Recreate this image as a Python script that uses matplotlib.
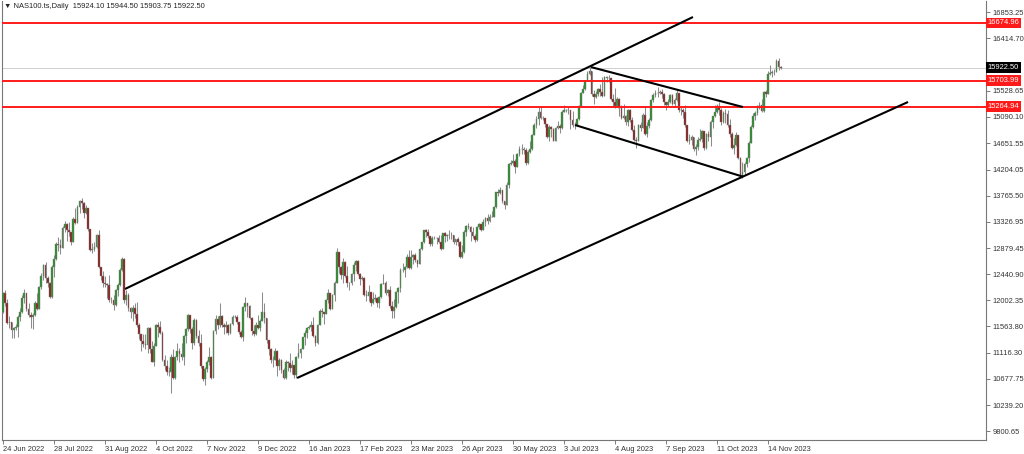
"""
NAS100 daily candles (Jun 2022 - Nov 2023) with channel, flag and
horizontal levels, drawn in the look of an MT4 chart window.
"""

import matplotlib
matplotlib.use("Agg")
import matplotlib.pyplot as plt
import matplotlib.transforms as mtransforms
import numpy as np

plt.rcParams["font.family"] = ["Liberation Sans", "DejaVu Sans"]

# ---- data -------------------------------------------------------------------
FIRST_OPEN = 11810

CLOSES = [
    12130, 11960, 11620, 11630, 11500, 11530, 11560, 11720, 11800, 12050,
    12120, 11860, 11750, 11730, 11760, 11960, 11860, 12220, 12420, 12600,
    12380, 12300, 12060, 12560, 12700, 12950, 12930, 12890, 13220, 13280,
    13180, 13150, 12990, 13380, 13310, 13580, 13680, 13640, 13480, 13550,
    13200, 12850, 12860, 12900, 13100, 12560, 12420, 12290, 12270, 12260,
    12010, 12000, 11930, 12170, 12260, 12520, 12700, 12000, 12090, 11880,
    11800, 11880, 11780, 11580, 11430, 11310, 11260, 11250, 11530, 11190,
    10970, 11240, 11580, 11550, 11460, 11000, 10900, 10800, 10790, 11040,
    10690, 11040, 11150, 11100, 11050, 11400, 11520, 11750, 11520, 11290,
    11670, 11400, 11290, 10890, 10680, 10850, 10960, 11050, 10700, 11480,
    11680, 11580, 11740, 11580, 11560, 11580, 11460, 11600, 11720, 11730,
    11630, 11470, 11390, 11890, 11950, 11910, 11710, 11480, 11440, 11580,
    11530, 11660, 11800, 11700, 11330, 11180, 10990, 11000, 11150, 10890,
    10990, 10830, 10690, 10970, 10940, 10860, 10910, 10740, 11040, 11110,
    11190, 11380, 11460, 11540, 11550, 11580, 11400, 11280, 11590, 11830,
    11800, 11780, 12000, 12120, 11860, 12100, 12300, 12810, 12570, 12430,
    12650, 12420, 12290, 12300, 12450, 12600, 12670, 12450, 12360, 12380,
    12100, 12070, 12140, 11950, 12030, 12040, 11960, 12060, 12280, 12300,
    12120, 12170, 11900, 11830, 11890, 12150, 12210, 12520, 12520, 12560,
    12740, 12540, 12740, 12770, 12680, 12620, 12860, 12980, 13180, 13160,
    13080, 12950, 13060, 13050, 13060, 12980, 12870, 13130, 13080, 13110,
    13110, 13100, 12990, 13030, 12990, 12730, 12810, 13160, 13250, 13240,
    13150, 13080, 13020, 13240, 13280, 13190, 13330, 13390, 13340, 13410,
    13410, 13570, 13820, 13810, 13860, 13670, 13610, 13940, 14300, 14320,
    14350, 14250, 14460, 14550, 14550, 14540, 14310, 14500, 14550, 14790,
    14950, 15050, 15180, 15080, 15070, 14970, 14750, 14930, 14890, 14690,
    14910, 14940, 14900, 15180, 15210, 15200, 15210, 15040, 14950, 14960,
    15050, 15270, 15500, 15560, 15700, 15820, 15860, 15470, 15420, 15480,
    15560, 15510, 15450, 15760, 15750, 15740, 15390, 15340, 15270, 15400,
    15250, 15080, 15100, 15010, 15210, 15040, 14870, 14700, 14690, 14950,
    14910, 15130, 14800, 14940, 15040, 15370, 15460, 15500, 15500, 15510,
    15470, 15340, 15300, 15340, 15460, 15310, 15370, 15490, 15200, 15200,
    15170, 14950, 14690, 14700, 14760, 14550, 14580, 14700, 14720, 14850,
    14570, 14800, 14760, 15010, 15100, 15180, 15280, 15200, 15000, 15160,
    15140, 14950, 14800, 14570, 14620, 14780, 14400, 14100, 14160, 14300,
    14400, 14660, 14920, 15100, 15150, 15270, 15300, 15190, 15510, 15480,
    15810, 15830, 15850, 15850, 16030, 15924.10, 15922.50,
]

HIGHS = [
    12140, 12170, 12030, 11740, 11640, 11560, 11600, 11760, 11880, 12090,
    12200, 12080, 11960, 11800, 11790, 11990, 12130, 12240, 12460, 12620,
    12650, 12420, 12310, 12600, 12760, 12980, 13070, 13030, 13250, 13340,
    13300, 13330, 13160, 13410, 13560, 13600, 13700, 13730, 13660, 13600,
    13550, 13190, 12960, 12990, 13120, 13190, 12540, 12500, 12410, 12300,
    12430, 12060, 12100, 12200, 12300, 12540, 12740, 12720, 12180, 12130,
    11890, 11920, 11950, 11980, 11620, 11440, 11430, 11440, 11560, 11560,
    11310, 11280, 11600, 11640, 11650, 11480, 11080, 11000, 10880, 11100,
    11180, 11070, 11280, 11200, 11290, 11420, 11540, 11780, 11760, 11550,
    11700, 11680, 11500, 11440, 10900, 10880, 10990, 11210, 11060, 11500,
    11760, 11740, 11950, 11750, 11620, 11650, 11600, 11620, 11760, 11760,
    11750, 11640, 11500, 11910, 12060, 11960, 11930, 11730, 11580, 11640,
    11750, 11680, 12150, 11960, 11710, 11340, 11200, 11070, 11200, 11160,
    11030, 11010, 10870, 10990, 10980, 11120, 11000, 10920, 11070, 11280,
    11200, 11390, 11500, 11560, 11580, 11660, 11730, 11420, 11600, 11860,
    11880, 11800, 12020, 12190, 12130, 12110, 12320, 12880, 12820, 12580,
    12710, 12660, 12580, 12310, 12470, 12640, 12680, 12680, 12460, 12410,
    12390, 12170, 12260, 12150, 12140, 12110, 12060, 12080, 12300, 12450,
    12320, 12200, 12240, 11990, 12020, 12160, 12230, 12540, 12630, 12580,
    12780, 12850, 12850, 12780, 12800, 12690, 12880, 12990, 13190, 13200,
    13200, 13080, 13080, 13080, 13070, 13100, 13100, 13140, 13150, 13120,
    13180, 13150, 13110, 13040, 13070, 13000, 12940, 13180, 13270, 13300,
    13250, 13240, 13120, 13260, 13310, 13290, 13370, 13410, 13450, 13450,
    13500, 13590, 13830, 13880, 13910, 13860, 13670, 14000, 14320, 14360,
    14470, 14380, 14490, 14600, 14640, 14580, 14560, 14530, 14680, 14810,
    14990, 15110, 15270, 15280, 15110, 15080, 14980, 14960, 14940, 14900,
    14920, 15030, 14980, 15200, 15290, 15230, 15260, 15210, 15190, 15000,
    15080, 15300, 15510, 15630, 15720, 15860, 15930, 15870, 15540, 15530,
    15580, 15640, 15760, 15780, 15780, 15800, 15750, 15480, 15580, 15420,
    15410, 15300, 15310, 15130, 15230, 15220, 15090, 14950, 14760, 14980,
    15010, 15150, 15280, 15000, 15070, 15400, 15500, 15540, 15600, 15540,
    15560, 15490, 15350, 15400, 15480, 15480, 15410, 15560, 15500, 15270,
    15240, 15300, 14960, 14810, 14780, 14760, 14640, 14760, 14880, 14870,
    14850, 14820, 14850, 15040, 15110, 15290, 15310, 15350, 15240, 15190,
    15220, 15200, 15050, 14830, 14740, 14830, 14790, 14410, 14330, 14340,
    14420, 14680, 14950, 15160, 15190, 15290, 15340, 15390, 15530, 15540,
    15860, 15960, 15880, 15900, 16060, 16080, 15944.50,
]

LOWS = [
    11790, 11900, 11600, 11530, 11370, 11360, 11500, 11390, 11650, 11790,
    11960, 11830, 11720, 11530, 11520, 11740, 11840, 11850, 12190, 12340,
    12300, 12220, 12040, 12050, 12390, 12680, 12840, 12790, 12880, 13160,
    13010, 13090, 12940, 12980, 13290, 13300, 13470, 13540, 13390, 13450,
    13170, 12830, 12800, 12830, 12890, 12540, 12350, 12230, 12230, 12050,
    11980, 11960, 11840, 11900, 12070, 12250, 12500, 11960, 11930, 11820,
    11700, 11650, 11700, 11560, 11350, 11150, 11210, 11190, 11120, 11110,
    10960, 10900, 11230, 11390, 11430, 10980, 10830, 10750, 10730, 10450,
    10680, 10680, 11000, 10960, 10990, 10920, 11280, 11490, 11450, 11190,
    11250, 11360, 11240, 10870, 10640, 10580, 10790, 10920, 10680, 10690,
    11430, 11520, 11560, 11550, 11440, 11450, 11420, 11440, 11590, 11700,
    11610, 11440, 11360, 11310, 11820, 11730, 11680, 11420, 11410, 11420,
    11520, 11490, 11650, 11620, 11280, 11090, 10950, 10880, 10990, 10720,
    10830, 10780, 10680, 10680, 10810, 10790, 10770, 10700, 10700, 11030,
    11030, 11180, 11250, 11370, 11520, 11490, 11380, 11230, 11270, 11580,
    11730, 11610, 11770, 11960, 11840, 11850, 11990, 12290, 12470, 12370,
    12300, 12400, 12230, 12170, 12260, 12330, 12500, 12430, 12260, 12340,
    12080, 11990, 11990, 11900, 11940, 11990, 11890, 11880, 12040, 12270,
    12090, 12070, 11880, 11700, 11710, 11880, 11950, 12140, 12480, 12400,
    12550, 12530, 12530, 12610, 12650, 12560, 12610, 12850, 12970, 13070,
    13060, 12910, 12920, 13030, 12950, 12960, 12850, 12860, 12990, 13010,
    13030, 13030, 12950, 12940, 12920, 12720, 12710, 12800, 13080, 13200,
    13010, 13060, 12980, 13010, 13200, 13170, 13180, 13260, 13290, 13330,
    13400, 13400, 13560, 13760, 13800, 13650, 13540, 13600, 13900, 14280,
    14280, 14140, 14240, 14430, 14470, 14460, 14290, 14300, 14490, 14540,
    14780, 14900, 14950, 15060, 15040, 14920, 14730, 14680, 14750, 14680,
    14680, 14880, 14820, 14890, 15170, 15180, 15140, 14890, 14930, 14880,
    14940, 15040, 15260, 15490, 15540, 15690, 15790, 15450, 15310, 15410,
    15440, 15450, 15420, 15440, 15680, 15680, 15370, 15280, 15250, 15260,
    15110, 15050, 15060, 14960, 14940, 15010, 14850, 14690, 14560, 14680,
    14860, 14900, 14780, 14750, 14910, 15030, 15350, 15430, 15420, 15480,
    15410, 15290, 15200, 15270, 15330, 15290, 15260, 15360, 15180, 15130,
    15080, 14930, 14670, 14640, 14620, 14520, 14450, 14530, 14690, 14670,
    14540, 14550, 14690, 14600, 14900, 15090, 15160, 15130, 14960, 14990,
    14990, 14930, 14760, 14550, 14470, 14600, 14380, 14060, 14060, 14130,
    14250, 14340, 14650, 14900, 15040, 15120, 15230, 15170, 15180, 15420,
    15470, 15790, 15770, 15800, 15840, 15880, 15903.75,
]

DATE_LABELS = [
    "24 Jun 2022", "28 Jul 2022", "31 Aug 2022", "4 Oct 2022", "7 Nov 2022",
    "9 Dec 2022", "16 Jan 2023", "17 Feb 2023", "23 Mar 2023", "26 Apr 2023",
    "30 May 2023", "3 Jul 2023", "4 Aug 2023", "7 Sep 2023", "11 Oct 2023",
    "14 Nov 2023",
]
BARS_PER_LABEL = 24

PRICE_TICKS = [
    16853.25, 16414.70, 15967.20, 15528.65, 15090.10, 14651.55, 14204.05,
    13765.50, 13326.95, 12879.45, 12440.90, 12002.35, 11563.80, 11116.30,
    10677.75, 10239.20, 9800.65,
]
HIDDEN_TICK = 15967.20   # sits under the last-price box, label not shown

LEVELS = [16674.96, 15703.99, 15264.94]     # red horizontal lines
LAST_PRICE = 15922.50
HEADER = "\u25bc NAS100.ts,Daily  15924.10 15944.50 15903.75 15922.50"

# hand-drawn lines: (bar_start, bar_end), (price_start, price_end)
CHANNEL_TOP = ((57.4, 324.7), (12194, 16774))
CHANNEL_BOTTOM = ((138.4, 425.9), (10695, 15343))
FLAG_TOP = ((276.7, 348.2), (15931, 15258))
FLAG_BOTTOM = ((269.2, 348.2), (14955, 14085))

BULL = "#2a8c2a"
BEAR = "#8a1c1c"
WICK = "#8c8c8c"
LEVEL_RED = "#ff1a1a"
FS = 5.4


def main() -> None:
    closes = np.array(CLOSES, dtype=float)
    highs = np.array(HIGHS, dtype=float)
    lows = np.array(LOWS, dtype=float)
    opens = np.concatenate([[FIRST_OPEN], closes[:-1]])
    x = np.arange(len(closes))
    up = closes >= opens

    fig = plt.figure(figsize=(10.24, 4.54), dpi=100)
    ax = fig.add_axes([2 / 1024, 14 / 454, 984 / 1024, 439 / 454])

    # candles
    ax.vlines(x, lows, highs, color=WICK, lw=0.75, zorder=2)
    ax.bar(x[up], (closes - opens)[up], bottom=opens[up], width=0.8,
           color=BULL, edgecolor="#808080", lw=0.3, zorder=3)
    ax.bar(x[~up], (opens - closes)[~up], bottom=closes[~up], width=0.8,
           color=BEAR, edgecolor="#808080", lw=0.3, zorder=3)

    # levels
    ax.axhline(LAST_PRICE, color="#cfcfcf", lw=0.7, zorder=1)
    for lvl in LEVELS:
        ax.axhline(lvl, color=LEVEL_RED, lw=1.4, zorder=4)

    for (bx, py) in (CHANNEL_TOP, CHANNEL_BOTTOM, FLAG_TOP, FLAG_BOTTOM):
        ax.plot(bx, py, color="black", lw=1.5, solid_capstyle="butt", zorder=5)

    ax.set_xlim(-0.5, 462.6)
    ax.set_ylim(9650.1, 17043.7)

    # axes styling
    for side in ("left", "bottom", "right"):
        ax.spines[side].set_color("#777777")
        ax.spines[side].set_linewidth(0.8)
    ax.spines["top"].set_visible(False)

    ax.yaxis.tick_right()
    ax.set_yticks(PRICE_TICKS)
    ax.set_yticklabels(["" if v == HIDDEN_TICK else f"{v:.2f}"
                        for v in PRICE_TICKS])
    ax.tick_params(axis="y", direction="out", length=3, width=0.6,
                   colors="#666666", labelcolor="#333333", labelsize=FS, pad=1.5)

    ax.set_xticks(np.arange(len(DATE_LABELS)) * BARS_PER_LABEL)
    ax.set_xticklabels(DATE_LABELS)
    for lbl in ax.get_xticklabels():
        lbl.set_horizontalalignment("left")
    ax.tick_params(axis="x", direction="out", length=3, width=0.6,
                   colors="#666666", labelcolor="#333333", labelsize=FS, pad=1.2)

    # price boxes on the right scale
    trans = mtransforms.blended_transform_factory(ax.transAxes, ax.transData)
    box = dict(boxstyle="square,pad=0.25", ec="none")
    for lvl in LEVELS:
        ax.text(1.0015, lvl, f"{lvl:.2f}", transform=trans, color="white",
                fontsize=FS, va="center", ha="left", clip_on=False, zorder=6,
                bbox=dict(box, fc=LEVEL_RED))
    ax.text(1.0015, LAST_PRICE, f"{LAST_PRICE:.2f}", transform=trans,
            color="white", fontsize=FS, va="center", ha="left", clip_on=False,
            zorder=6, bbox=dict(box, fc="black"))

    fig.text(4 / 1024, 1 - 7 / 454, HEADER, fontsize=FS, va="center",
             ha="left", color="#222222")

    fig.savefig("out.png", dpi=100)
    plt.close(fig)


if __name__ == "__main__":
    main()
